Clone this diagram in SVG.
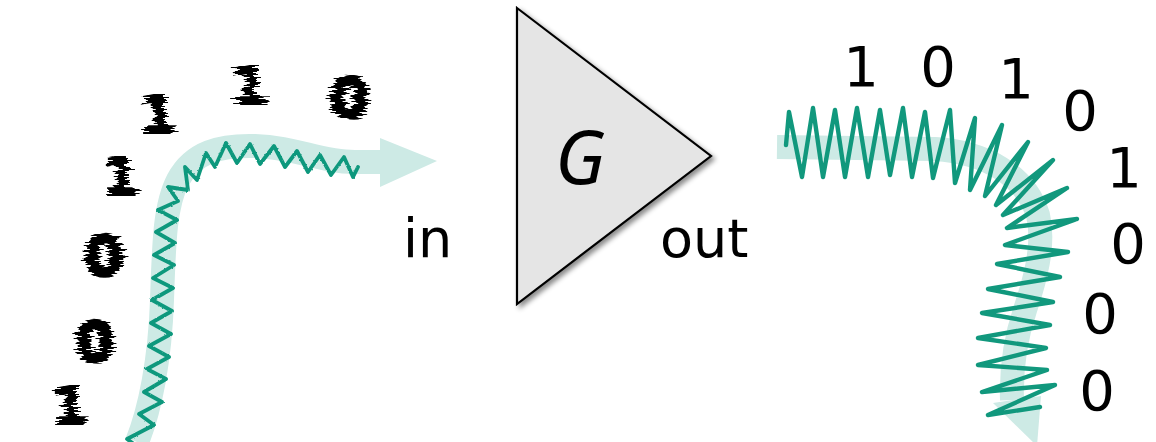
<svg xmlns="http://www.w3.org/2000/svg" width="1156" height="442" viewBox="0 0 1156 442">
  <style>
    .band { fill: none; stroke: #cdeae5; stroke-width: 24; stroke-linecap: butt; stroke-linejoin: round; }
    .head { fill: #cdeae5; }
    .wave { fill: none; stroke: #11987d; stroke-linejoin: round; stroke-linecap: round; }
    .lbl { font-family: "DejaVu Sans", "Liberation Sans", sans-serif; fill: #000; }
    .bit { font-family: "DejaVu Sans", "Liberation Sans", sans-serif; font-size: 56px; fill: #000; text-anchor: middle; }
    .noisy { font-family: "DejaVu Sans", "Liberation Sans", sans-serif; font-size: 52px; font-weight: bold; fill: #000; stroke: #000; stroke-width: 2; text-anchor: middle; }
    .noisy.z { font-size: 56px; stroke-width: 3.5; }
  </style>
  <defs>
    <!-- row-wise horizontal jitter for the corrupted input bits -->
    <filter id="scan" x="-60%" y="-20%" width="220%" height="140%">
      <feTurbulence type="fractalNoise" baseFrequency="0.01 0.55" numOctaves="1" seed="7" result="n"/>
      <feColorMatrix in="n" type="matrix" values="1 0 0 0 0  0 0 0 0 0.5  0 0 0 0 0  0 0 0 0 1" result="nx"/>
      <feDisplacementMap in="SourceGraphic" in2="nx" scale="24" xChannelSelector="R" yChannelSelector="G"/>
    </filter>
    <!-- jagged edge for the noisy input signal -->
    <filter id="rough" x="-5%" y="-5%" width="110%" height="110%">
      <feTurbulence type="fractalNoise" baseFrequency="0.5" numOctaves="1" seed="4"/>
      <feDisplacementMap in="SourceGraphic" scale="2.2" xChannelSelector="R" yChannelSelector="G"/>
    </filter>
    <filter id="shadow" x="-10%" y="-10%" width="125%" height="125%">
      <feDropShadow dx="3" dy="3" stdDeviation="2.5" flood-color="#000" flood-opacity="0.45"/>
    </filter>
  </defs>

  <rect width="1156" height="442" fill="#fff"/>

  <!-- signal paths -->
  <g id="connectors">
    <g id="band-in">
      <path class="band" d="M137,442 C150,410 160,360 162,300 C164,240 165,205 178,180 C193,152 220,145 255,146 C295,147 320,162 355,162 L382,162"/>
      <polygon class="head" points="380,138 437,161 380,187"/>
    </g>
    <g id="band-out">
      <path class="band" d="M777,147 L935,149 C985,152 1025,175 1038,215 C1045,245 1035,280 1025,310 C1015,340 1011,370 1012,400"/>
      <polygon class="head" points="993,403 1041,396 1037,446"/>
    </g>
    <polyline id="wave-in" class="wave" stroke-width="3.8" filter="url(#rough)" points="145,452 127,439 154,425 139,414 162,402 144,392 166,379 147,369 169,357 149,346 171,334 151,323 172,311 152,300 173,288 153,278 174,265 154,255 175,243 156,232 177,220 158,210 178,201 168,187 188,190 185,167 197,180 206,153 215,167 226,143 237,163 250,144 260,164 274,146 285,167 297,151 308,172 320,155 331,175 344,157 353,177 358,167"/>
    <polyline id="wave-out" class="wave" stroke-width="4.4" points="786,145 789,112 802,177 813,108 823,177 835,110 845,177 857,108 868,177 880,110 890,175 903,108 912,177 925,112 933,178 950,110 955,183 975,118 970,190 1002,125 985,196 1028,142 996,205 1053,160 1003,215 1067,188 1007,228 1077,219 1005,245 1068,252 997,264 1060,277 988,289 1053,302 982,313 1050,325 978,338 1046,348 978,365 1047,370 982,392 1055,385 988,415 1040,407"/>
  </g>

  <!-- amplifier block -->
  <g id="amp">
    <polygon points="517,8 711,156 517,304" fill="#e5e5e5" stroke="#000" stroke-width="2.2" stroke-linejoin="miter" filter="url(#shadow)"/>
    <text x="580" y="184" font-family="'Noto Sans', 'DejaVu Sans', sans-serif" font-size="74" font-style="italic" text-anchor="middle" fill="#000">G</text>
  </g>

  <g id="port-labels">
    <text class="lbl" x="403" y="257" font-size="54">in</text>
    <text class="lbl" x="660" y="257" font-size="54">out</text>
  </g>

  <!-- corrupted input bits -->
  <g id="bits-in" filter="url(#scan)">
    <text class="noisy" x="70" y="424">1</text>
    <text class="noisy z" x="95" y="361">0</text>
    <text class="noisy z" x="104" y="275">0</text>
    <text class="noisy" x="121" y="195">1</text>
    <text class="noisy" x="158" y="133">1</text>
    <text class="noisy" x="250" y="104">1</text>
    <text class="noisy z" x="349" y="117">0</text>
  </g>

  <!-- recovered output bits -->
  <g id="bits-out">
    <text class="bit" x="861" y="86">1</text>
    <text class="bit" x="938" y="86">0</text>
    <text class="bit" x="1016" y="98">1</text>
    <text class="bit" x="1080" y="130">0</text>
    <text class="bit" x="1124" y="187">1</text>
    <text class="bit" x="1128" y="263">0</text>
    <text class="bit" x="1100" y="333">0</text>
    <text class="bit" x="1097" y="410">0</text>
  </g>
</svg>
